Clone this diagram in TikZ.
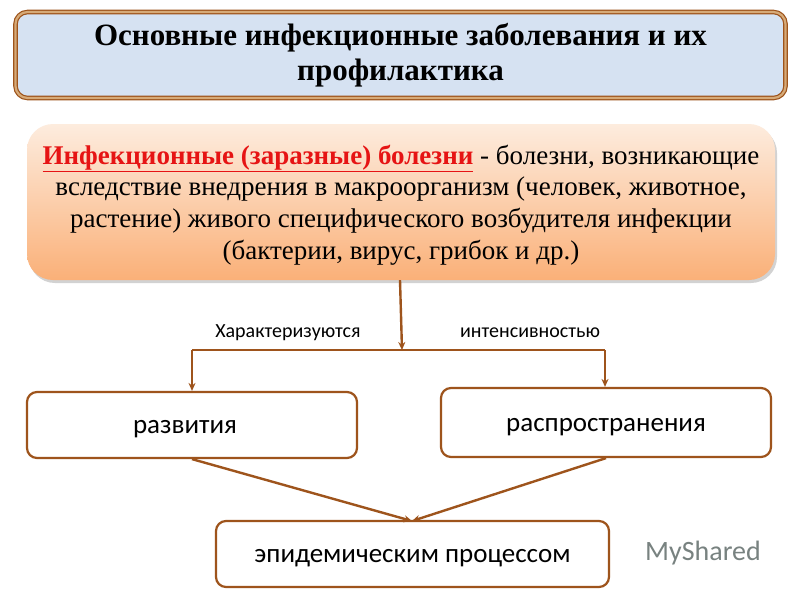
\documentclass[tikz,border=0pt]{standalone}
\usepackage{fontspec}
\setmainfont{Liberation Serif}
\setsansfont{Carlito}
\usetikzlibrary{shadows,arrows.meta}
\definecolor{brn}{RGB}{158,84,28}
\definecolor{tanb}{RGB}{214,170,120}
\definecolor{titlefill}{RGB}{214,226,242}
\definecolor{peachtop}{RGB}{253,236,222}
\definecolor{peachbot}{RGB}{250,176,120}
\definecolor{redtxt}{RGB}{230,20,20}
\definecolor{wmark}{RGB}{120,130,128}
\tikzset{
  titlebox/.style={draw=brn, line width=1.2pt, double=tanb, double distance=2.2pt, rounded corners=12pt, fill=titlefill, minimum width=770pt, minimum height=86pt, inner sep=0pt},
  defbox/.style={draw=none, rounded corners=26pt, top color=peachtop, bottom color=peachbot, minimum width=748pt, minimum height=156pt, inner sep=0pt, drop shadow={shadow xshift=2pt, shadow yshift=-3pt, opacity=0.35}},
  leafbox/.style={draw=brn, line width=2.2pt, rounded corners=10pt, fill=white, inner sep=0pt, text height=17pt, text depth=0pt, font=\sffamily\fontsize{27}{30}\selectfont},
  conn/.style={draw=brn, line width=2.4pt},
  arr/.style={conn, -{Stealth[length=8pt,width=7pt]}},
  lbl/.style={font=\sffamily\fontsize{20}{22}\selectfont, inner sep=0pt},
}
\begin{document}
\begin{tikzpicture}[x=1pt,y=-1pt]
\useasboundingbox (0,0) rectangle (800,600);
\fill[white] (0,0) rectangle (800,600);
\node[titlebox, align=center, font=\bfseries\fontsize{31}{35}\selectfont] (title) at (400.5,55) {Основные инфекционные заболевания и их\\профилактика};
\node[defbox] (def) at (401,202) {};
\node[align=center, font=\fontsize{27}{31.7}\selectfont, inner sep=0pt] (deftext) at (401,205) {{\color{redtxt}\bfseries\underline{Инфекционные (заразные) болезни}} - болезни, возникающие\\вследствие внедрения в макроорганизм (человек, животное,\\растение) живого специфического возбудителя инфекции\\(бактерии, вирус, грибок и др.)};
\node[leafbox, minimum width=330pt, minimum height=66pt] (dev) at (192,425) {\hspace*{-14pt}развития};
\node[leafbox, minimum width=330pt, minimum height=69pt] (spr) at (606,422.5) {распространения};
\node[leafbox, minimum width=393pt, minimum height=66pt] (epi) at (412.5,554) {эпидемическим процессом};
\coordinate (top) at (400,282);
\coordinate (junc) at (402,350);
\coordinate (hl) at (192,350);
\coordinate (hr) at (605,350);
\coordinate (tip) at (412,521);
\draw[arr] (def.south -| top) -- (junc);
\draw[conn] (hl) -- (hr);
\draw[arr] (hl) -- (dev.north);
\draw[arr] (hr) -- (spr.north -| hr);
\draw[arr] (dev.south) -- (tip);
\draw[arr] (spr.south) -- (tip);
\node[lbl] (l1) at (288,333) {Характеризуются};
\node[lbl] (l2) at (530,333) {интенсивностью};
\node[font=\sffamily\fontsize{28}{30}\selectfont, text=wmark, inner sep=0pt, anchor=west] (wm) at (645,553) {MyShared};
\end{tikzpicture}
\end{document}
